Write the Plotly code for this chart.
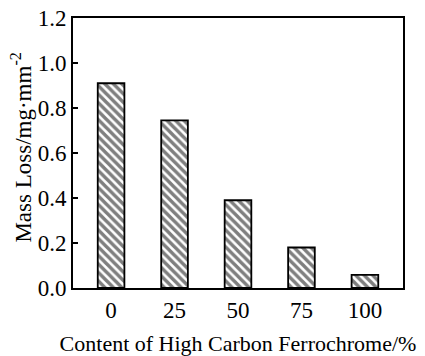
import plotly.graph_objects as go

categories = ["0", "25", "50", "75", "100"]
mass_loss = [0.91, 0.745, 0.39, 0.18, 0.058]
y_ticks = [0.0, 0.2, 0.4, 0.6, 0.8, 1.0, 1.2]
y_tick_labels = ["0.0", "0.2", "0.4", "0.6", "0.8", "1.0", "1.2"]
y_title = "Mass Loss/mg·mm<sup>-2</sup>"
x_title = "Content of High Carbon Ferrochrome/%"

font_family = "Liberation Serif, Times New Roman, serif"

fig = go.Figure(
    go.Bar(
        x=list(range(len(categories))),
        y=mass_loss,
        width=0.42,
        marker=dict(
            color="white",
            line=dict(color="black", width=1.8),
            pattern=dict(shape="\\", fgcolor="black", bgcolor="white", size=6, solidity=0.58),
        ),
    )
)

fig.update_layout(
    width=425,
    height=356,
    margin=dict(l=73, r=22, t=18, b=68),
    plot_bgcolor="white",
    paper_bgcolor="white",
    showlegend=False,
    font=dict(family=font_family, color="black", size=23),
    xaxis=dict(
        range=[-0.6, 4.6],
        tickmode="array",
        tickvals=list(range(len(categories))),
        ticktext=categories,
        showline=True,
        linecolor="black",
        linewidth=2,
        mirror=True,
        ticks="",
        showgrid=False,
        zeroline=False,
        automargin=False,
        tickfont=dict(size=23),
        title=dict(text=x_title, font=dict(size=22)),
    ),
    yaxis=dict(
        range=[0, 1.2],
        tickmode="array",
        tickvals=y_ticks,
        ticktext=y_tick_labels,
        showline=True,
        linecolor="black",
        linewidth=2,
        mirror=True,
        ticks="inside",
        ticklen=5,
        tickwidth=1.5,
        tickcolor="black",
        showgrid=False,
        zeroline=False,
        automargin=False,
        tickfont=dict(size=23),
    ),
    annotations=[
        dict(
            text=y_title,
            xref="paper",
            yref="paper",
            x=-51 / 330,
            y=0.52,
            xanchor="center",
            yanchor="middle",
            textangle=-90,
            showarrow=False,
            font=dict(size=23, family=font_family, color="black"),
        )
    ],
)

fig.write_html("out.html")
